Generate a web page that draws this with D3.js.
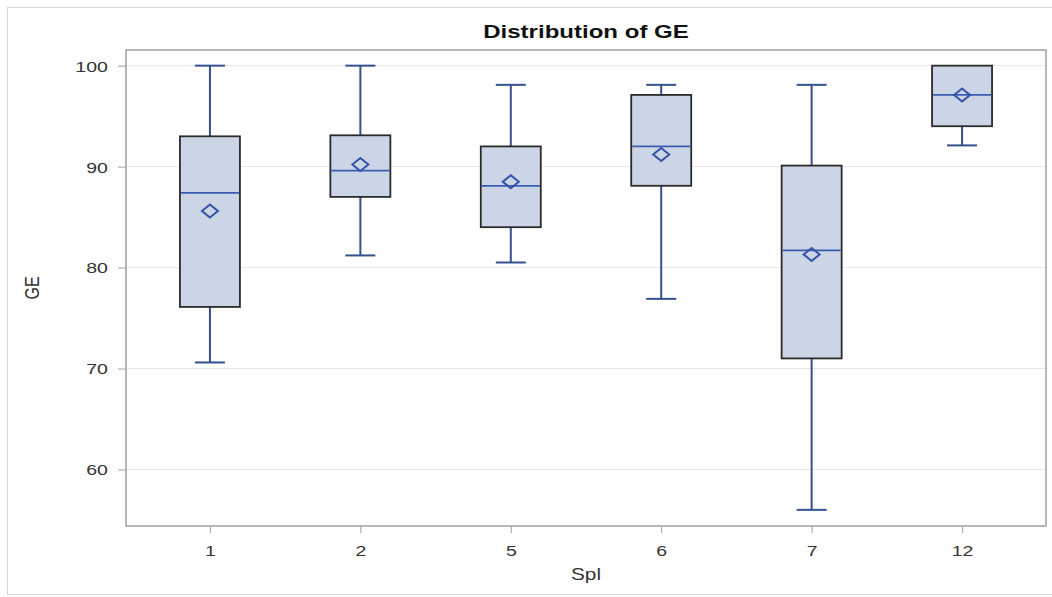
<!DOCTYPE html>
<html>
<head>
<meta charset="utf-8">
<script src="https://cdn.jsdelivr.net/npm/d3@7"></script>
<style>
  html, body { margin: 0; padding: 0; background: #fff; }
  svg { display: block; }
</style>
</head>
<body>
<svg id="chart" width="1052" height="597"></svg>
<script>
// ---- data ----
const categories  = ["1", "2", "5", "6", "7", "12"];
const whiskerLow  = [70.6, 81.2, 80.5, 76.9, 56.0, 92.1];
const q1          = [76.1, 87.0, 84.0, 88.1, 71.0, 94.0];
const median      = [87.4, 89.6, 88.1, 92.0, 81.7, 97.1];
const q3          = [93.0, 93.1, 92.0, 97.1, 90.1, 100.0];
const whiskerHigh = [100.0, 100.0, 98.1, 98.1, 98.1, 100.0];
const means       = [85.6, 90.2, 88.5, 91.2, 81.3, 97.1];
const yTicks      = [60, 70, 80, 90, 100];
const titleText   = "Distribution of GE";
const xLabel      = "Spl";
const yLabel      = "GE";

// ---- layout ----
const W = 1052, H = 597;
const plot = { left: 126, top: 50, right: 1046, bottom: 526 };
const SX = 1.3; // horizontal text stretch seen in reference
const svg = d3.select("#chart");
const fontFam = "'Liberation Sans', Arial, sans-serif";

const rows = categories.map((c, i) => ({
  cat: c, lo: whiskerLow[i], q1: q1[i], med: median[i], q3: q3[i], hi: whiskerHigh[i], mean: means[i]
}));

const x = d3.scalePoint().domain(categories).range([plot.left, plot.right]).padding(0.558);
const y = d3.scaleLinear().domain([54.4, 101.55]).range([plot.bottom, plot.top]);

// outer border
svg.append("rect").attr("x", 7.5).attr("y", 7.5).attr("width", W).attr("height", 587)
  .attr("fill", "none").attr("stroke", "#d4d4d4").attr("stroke-width", 1);

// gridlines
svg.append("g").selectAll("line").data(yTicks).join("line")
  .attr("x1", plot.left).attr("x2", plot.right)
  .attr("y1", d => y(d)).attr("y2", d => y(d))
  .attr("stroke", "#e6e6e6").attr("stroke-width", 1);

// axes
const yAxis = svg.append("g").attr("transform", `translate(${plot.left},0)`)
  .call(d3.axisLeft(y).tickValues(yTicks).tickSize(8).tickPadding(6).tickFormat(d3.format("d")));
const xAxis = svg.append("g").attr("transform", `translate(0,${plot.bottom})`)
  .call(d3.axisBottom(x).tickSize(7).tickPadding(8));
[yAxis, xAxis].forEach(g => {
  g.select(".domain").remove();
  g.selectAll(".tick line").attr("stroke", "#a0a0a0").attr("stroke-width", 1);
  g.selectAll(".tick text").attr("font-family", fontFam).attr("font-size", 15).attr("fill", "#333");
});
yAxis.selectAll(".tick text").attr("transform", `scale(${SX},1)`).attr("dy", "0.36em");
xAxis.selectAll(".tick text").attr("transform", `scale(${SX},1)`).attr("dy", "1em")
  .attr("x", 0);

// frame
svg.append("rect").attr("x", plot.left).attr("y", plot.top)
  .attr("width", plot.right - plot.left).attr("height", plot.bottom - plot.top)
  .attr("fill", "none").attr("stroke", "#a0a0a0").attr("stroke-width", 1.5);

// boxes
const boxW = 60, capW = 30;
const whiskerColor = "#34508f", medColor = "#3a5bb0", meanColor = "#3552a8";
const g = svg.append("g");
const bx = g.selectAll("g.box").data(rows).join("g").attr("class", "box");

// whiskers (only where the whisker extends beyond the box)
bx.filter(d => d.hi > d.q3).append("line").attr("x1", d => x(d.cat)).attr("x2", d => x(d.cat))
  .attr("y1", d => y(d.hi)).attr("y2", d => y(d.q3))
  .attr("stroke", whiskerColor).attr("stroke-width", 2);
bx.filter(d => d.lo < d.q1).append("line").attr("x1", d => x(d.cat)).attr("x2", d => x(d.cat))
  .attr("y1", d => y(d.q1)).attr("y2", d => y(d.lo))
  .attr("stroke", whiskerColor).attr("stroke-width", 2);
bx.filter(d => d.hi > d.q3).append("line").attr("x1", d => x(d.cat) - capW / 2).attr("x2", d => x(d.cat) + capW / 2)
  .attr("y1", d => y(d.hi)).attr("y2", d => y(d.hi))
  .attr("stroke", whiskerColor).attr("stroke-width", 2);
bx.filter(d => d.lo < d.q1).append("line").attr("x1", d => x(d.cat) - capW / 2).attr("x2", d => x(d.cat) + capW / 2)
  .attr("y1", d => y(d.lo)).attr("y2", d => y(d.lo))
  .attr("stroke", whiskerColor).attr("stroke-width", 2);

// box
bx.append("rect").attr("x", d => x(d.cat) - boxW / 2).attr("width", boxW)
  .attr("y", d => y(d.q3)).attr("height", d => y(d.q1) - y(d.q3))
  .attr("fill", "#cbd5e5").attr("stroke", "#2b2b2b").attr("stroke-width", 1.8);

// median
bx.append("line").attr("x1", d => x(d.cat) - boxW / 2 + 1).attr("x2", d => x(d.cat) + boxW / 2 - 1)
  .attr("y1", d => y(d.med)).attr("y2", d => y(d.med))
  .attr("stroke", medColor).attr("stroke-width", 1.8);

// mean diamond
const dw = 8, dh = 6.5;
bx.append("path")
  .attr("d", d => {
    const cx = x(d.cat), cy = y(d.mean);
    return `M${cx - dw},${cy} L${cx},${cy - dh} L${cx + dw},${cy} L${cx},${cy + dh} Z`;
  })
  .attr("fill", "none").attr("stroke", meanColor).attr("stroke-width", 2);

// title
svg.append("text").attr("transform", `translate(${(plot.left + plot.right) / 2},37.5) scale(${SX},1)`)
  .attr("text-anchor", "middle").attr("font-family", fontFam).attr("font-weight", "bold")
  .attr("font-size", 18.5).attr("fill", "#111").text(titleText);

// x label
svg.append("text").attr("transform", `translate(${(plot.left + plot.right) / 2},580) scale(${SX},1)`)
  .attr("text-anchor", "middle").attr("font-family", fontFam)
  .attr("font-size", 16).attr("fill", "#333").text(xLabel);

// y label
svg.append("text").attr("transform", `translate(39,${(plot.top + plot.bottom) / 2}) rotate(-90) scale(1,${SX})`)
  .attr("text-anchor", "middle").attr("font-family", fontFam)
  .attr("font-size", 16).attr("fill", "#333").text(yLabel);
</script>
</body>
</html>
